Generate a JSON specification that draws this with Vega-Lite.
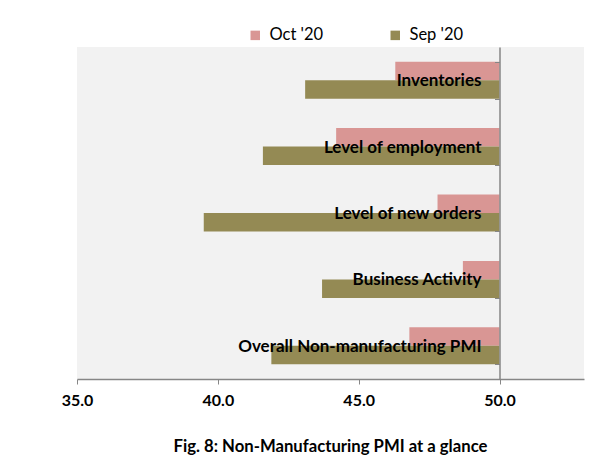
{
  "$schema": "https://vega.github.io/schema/vega-lite/v6.json",
  "width": 507,
  "height": 332,
  "autosize": {"type": "none"},
  "padding": {"left": 77, "top": 47, "right": 21, "bottom": 79},
  "background": "white",
  "config": {
    "view": {"fill": "#f2f2f2", "stroke": null},
    "font": "Lato"
  },
  "title": {
    "text": "Fig. 8: Non-Manufacturing PMI at a glance",
    "orient": "bottom",
    "anchor": "middle",
    "font": "Lato",
    "fontSize": 16.7,
    "fontWeight": "bold",
    "color": "#000000",
    "offset": 31
  },
  "data": {
    "values": [
      {"category": "Inventories", "series": "Oct '20", "value": 46.3},
      {"category": "Inventories", "series": "Sep '20", "value": 43.1},
      {"category": "Level of employment", "series": "Oct '20", "value": 44.2},
      {"category": "Level of employment", "series": "Sep '20", "value": 41.6},
      {"category": "Level of new orders", "series": "Oct '20", "value": 47.8},
      {"category": "Level of new orders", "series": "Sep '20", "value": 39.5},
      {"category": "Business Activity", "series": "Oct '20", "value": 48.7},
      {"category": "Business Activity", "series": "Sep '20", "value": 43.7},
      {"category": "Overall Non-manufacturing PMI", "series": "Oct '20", "value": 46.8},
      {"category": "Overall Non-manufacturing PMI", "series": "Sep '20", "value": 41.9}
    ]
  },
  "encoding": {
    "y": {
      "field": "category",
      "type": "nominal",
      "sort": ["Inventories", "Level of employment", "Level of new orders", "Business Activity", "Overall Non-manufacturing PMI"],
      "scale": {"paddingInner": 0.443, "paddingOuter": 0.2215},
      "axis": {
        "orient": "left",
        "offset": -422.5,
        "labels": false,
        "title": null,
        "tickBand": "extent",
        "tickSize": 5,
        "tickColor": "#868686",
        "domainColor": "#868686",
        "domainWidth": 1.5,
        "zindex": 1
      }
    }
  },
  "layer": [
    {
      "mark": {"type": "bar", "cornerRadius": 0},
      "encoding": {
        "x": {
          "field": "value",
          "type": "quantitative",
          "scale": {"domain": [35, 53], "nice": false, "zero": false},
          "axis": {
            "values": [35, 40, 45, 50],
            "format": ".1f",
            "title": null,
            "grid": false,
            "tickSize": 5,
            "tickColor": "#868686",
            "domainColor": "#868686",
            "domainWidth": 1.5,
            "labelFont": "Lato",
            "labelFontSize": 16,
            "labelFontWeight": "bold",
            "labelColor": "#000000",
            "labelFlush": false,
            "labelPadding": 8
          }
        },
        "x2": {"datum": 50},
        "yOffset": {
          "field": "series",
          "type": "nominal",
          "sort": ["Oct '20", "Sep '20"],
          "scale": {"paddingInner": 0, "paddingOuter": 0}
        },
        "color": {
          "field": "series",
          "type": "nominal",
          "sort": ["Oct '20", "Sep '20"],
          "scale": {"domain": ["Oct '20", "Sep '20"], "range": ["#d99694", "#948a54"]},
          "legend": {
            "orient": "none",
            "legendX": 170,
            "legendY": -20,
            "direction": "horizontal",
            "title": null,
            "symbolType": "square",
            "symbolSize": 90,
            "symbolStrokeWidth": 0,
            "labelFont": "Lato",
            "labelFontSize": 16.5,
            "labelColor": "#000000",
            "labelOffset": 6,
            "columnPadding": 63
          }
        }
      }
    },
    {
      "mark": {
        "type": "text",
        "align": "right",
        "baseline": "middle",
        "dx": -18,
        "dy": 1,
        "font": "Lato",
        "fontSize": 17,
        "fontWeight": "bold",
        "color": "#000000"
      },
      "encoding": {
        "x": {"datum": 50},
        "text": {"field": "category"}
      },
      "transform": [{"filter": "datum.series === 'Oct \\'20'"}]
    }
  ]
}
